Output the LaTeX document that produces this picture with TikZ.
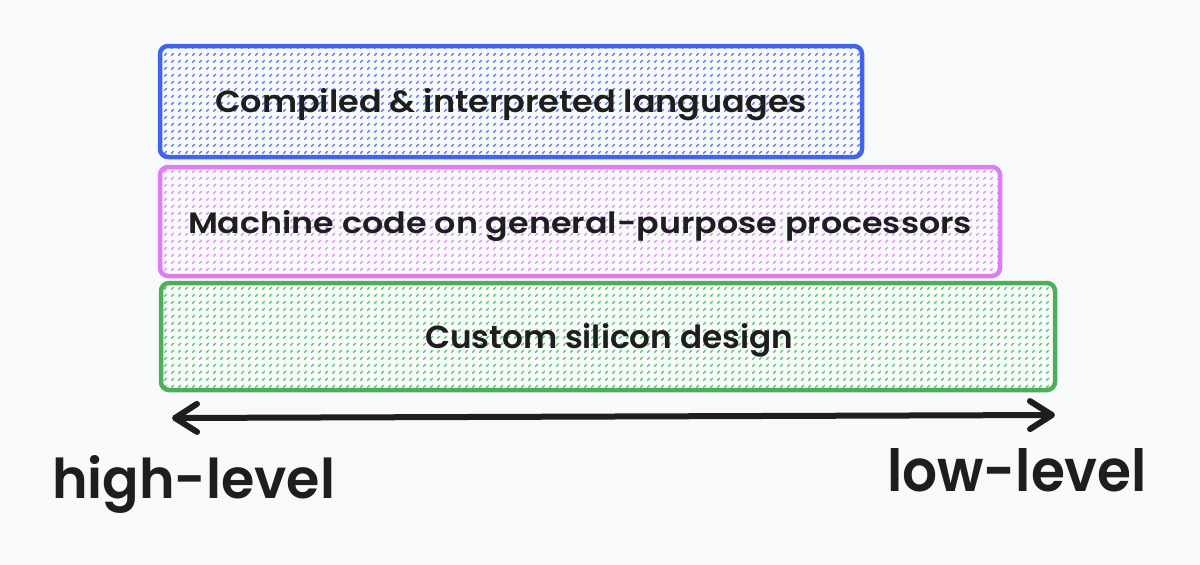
\documentclass[tikz,border=0pt]{standalone}
\usepackage{fontspec}
\usepackage{graphicx}
\newfontfamily\hand{Poppins}[UprightFont=* SemiBold]
\usetikzlibrary{arrows.meta,patterns.meta}
\definecolor{bgcol}{HTML}{F8F9FA}
\definecolor{inkcol}{HTML}{1E1E1E}
\definecolor{bluestroke}{HTML}{4263EB}
\definecolor{bluehatch}{HTML}{6680F0}
\definecolor{pinkstroke}{HTML}{DA7EF2}
\definecolor{pinkhatch}{HTML}{E196F5}
\definecolor{greenstroke}{HTML}{4CAF5A}
\definecolor{greenhatch}{HTML}{62C874}
\pgfdeclarepattern{
  name=dashhatch,
  type=uncolored,
  bottom left={\pgfpoint{0pt}{0pt}},
  top right={\pgfpoint{6.5pt}{6.5pt}},
  tile size={\pgfpoint{6.5pt}{6.5pt}},
  code={
    \pgfsetlinewidth{1.5pt}
    \pgfsetroundcap
    \pgfpathmoveto{\pgfpoint{1.8pt}{1.8pt}}
    \pgfpathlineto{\pgfpoint{4.0pt}{4.0pt}}
    \pgfusepath{stroke}
  }
}
\tikzset{
  layerbox/.style={line width=4.5pt, rounded corners=8pt, pattern=dashhatch},
  boxtext/.style={anchor=base west, inner sep=0pt, outer sep=0pt, text=inkcol},
  endlabel/.style={anchor=base west, inner sep=0pt, outer sep=0pt, text=inkcol},
}
\begin{document}
\begin{tikzpicture}[x=1pt,y=-1pt]
\fill[bgcol] (0,0) rectangle (1200,565);
\useasboundingbox (0,0) rectangle (1200,565);
% boxes
\draw[layerbox, draw=bluestroke, pattern color=bluehatch] (160,46) rectangle (862,157);
\node[boxtext] (lang) at (215,112) {\resizebox{592pt}{24pt}{\hand Compiled \& interpreted languages}};
\draw[layerbox, draw=pinkstroke, pattern color=pinkhatch] (160,167) rectangle (1000,276);
\node[boxtext] (mach) at (188,233) {\resizebox{784pt}{23pt}{\hand Machine code on general-purpose processors}};
\draw[layerbox, draw=greenstroke, pattern color=greenhatch] (161,283) rectangle (1055,390);
\node[boxtext] (silicon) at (425,348) {\resizebox{368pt}{25pt}{\hand Custom silicon design}};
% arrow
\coordinate (hl) at (172,418);
\coordinate (ll) at (1055,415);
\draw[inkcol, line width=6pt, line cap=round,
  {Straight Barb[length=22pt,width=28pt,round]}-{Straight Barb[length=22pt,width=28pt,round]}] (hl) -- (ll);
% labels
\node[endlabel] (high) at (52,498) {\resizebox{283pt}{43pt}{\hand high-level}};
\node[endlabel] (low) at (887,491) {\resizebox{260pt}{43pt}{\hand low-level}};
\end{tikzpicture}
\end{document}
